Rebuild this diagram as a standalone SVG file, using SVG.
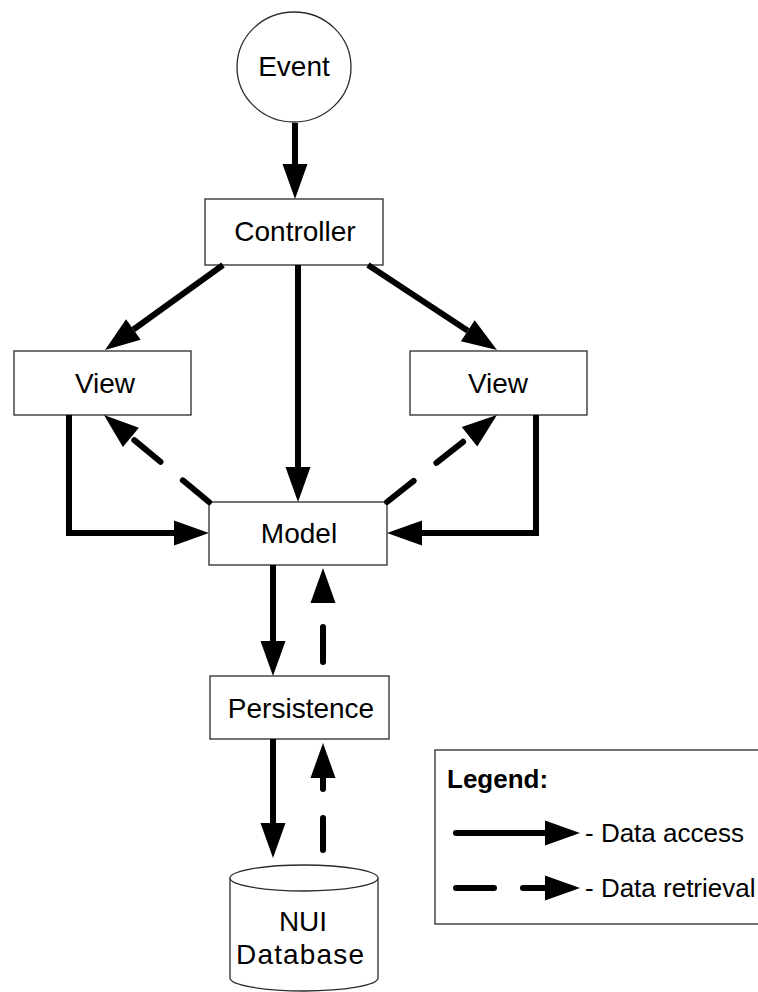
<svg xmlns="http://www.w3.org/2000/svg" width="758" height="992" viewBox="0 0 758 992">
<style>
  .box { fill: #ffffff; stroke: #2a2a2a; stroke-width: 1.3; }
  .lbl { font-family: "Liberation Sans", Arial, sans-serif; font-size: 28px; fill: #000; text-anchor: middle; }
  .leg { font-family: "Liberation Sans", Arial, sans-serif; font-size: 26px; fill: #000; }
  .solid { fill: none; stroke: #000; stroke-width: 6; stroke-linecap: butt; stroke-linejoin: miter; marker-end: url(#ah); }
  .dash { fill: none; stroke: #000; stroke-width: 6; stroke-linecap: round; marker-end: url(#ah); }
</style>
<defs>
  <marker id="ah" markerUnits="userSpaceOnUse" markerWidth="40" markerHeight="30" refX="0" refY="12.5" orient="auto" overflow="visible">
    <path d="M0,0 L35,12.5 L0,25 Z" fill="#000"/>
  </marker>
</defs>
<rect width="758" height="992" fill="#ffffff"/>

<g id="event">
  <ellipse class="box" cx="294" cy="67" rx="57" ry="55"/>
  <text class="lbl" x="294" y="76">Event</text>
</g>
<g id="controller">
  <rect class="box" x="205" y="199" width="178" height="66"/>
  <text class="lbl" x="295" y="241">Controller</text>
</g>
<g id="view-left">
  <rect class="box" x="14" y="351" width="177" height="64"/>
  <text class="lbl" x="105" y="393">View</text>
</g>
<g id="view-right">
  <rect class="box" x="410" y="351" width="177" height="64"/>
  <text class="lbl" x="498" y="393">View</text>
</g>
<g id="model">
  <rect class="box" x="209" y="502" width="178" height="63"/>
  <text class="lbl" x="299" y="543">Model</text>
</g>
<g id="persistence">
  <rect class="box" x="210" y="676" width="179" height="63"/>
  <text class="lbl" x="301" y="718">Persistence</text>
</g>
<g id="database">
  <path class="box" d="M230,878 L230,978 A74,13 0 0 0 378,978 L378,878"/>
  <ellipse class="box" cx="304" cy="878" rx="74" ry="13"/>
  <text class="lbl" x="303" y="931">NUI</text>
  <text class="lbl" x="300" y="964" textLength="128" lengthAdjust="spacing">Database</text>
</g>

<g id="connectors">
  <path class="solid" d="M295,123 L295,164"/>
  <path class="solid" d="M223,265 L133.4,329.5"/>
  <path class="solid" d="M368,265 L467.8,330.7"/>
  <path class="solid" d="M298,265 L298,467"/>
  <path class="dash" d="M209,502 L130.9,437.3" stroke-dasharray="34 29"/>
  <path class="dash" d="M387,502 L469.5,436.7" stroke-dasharray="34 29"/>
  <path class="solid" d="M69,415 L69,533 L174,533"/>
  <path class="solid" d="M536,415 L536,533 L422,533"/>
  <path class="solid" d="M273,565 L273,641"/>
  <path class="dash" d="M323,662 L323,603" stroke-dasharray="35 30"/>
  <path class="solid" d="M273,739 L273,823"/>
  <path class="dash" d="M323,850 L323,778" stroke-dasharray="32 29"/>
</g>

<g id="legend">
  <rect class="box" x="435" y="750" width="330" height="174"/>
  <text class="leg" x="447" y="788" font-weight="bold">Legend:</text>
  <path class="dash" d="M456,833 L545,833" stroke-dasharray="none"/>
  <text class="leg" x="585" y="842">- Data access</text>
  <path class="dash" d="M456,888 L545,888" stroke-dasharray="38 29"/>
  <text class="leg" x="585" y="897">- Data retrieval</text>
</g>
</svg>
